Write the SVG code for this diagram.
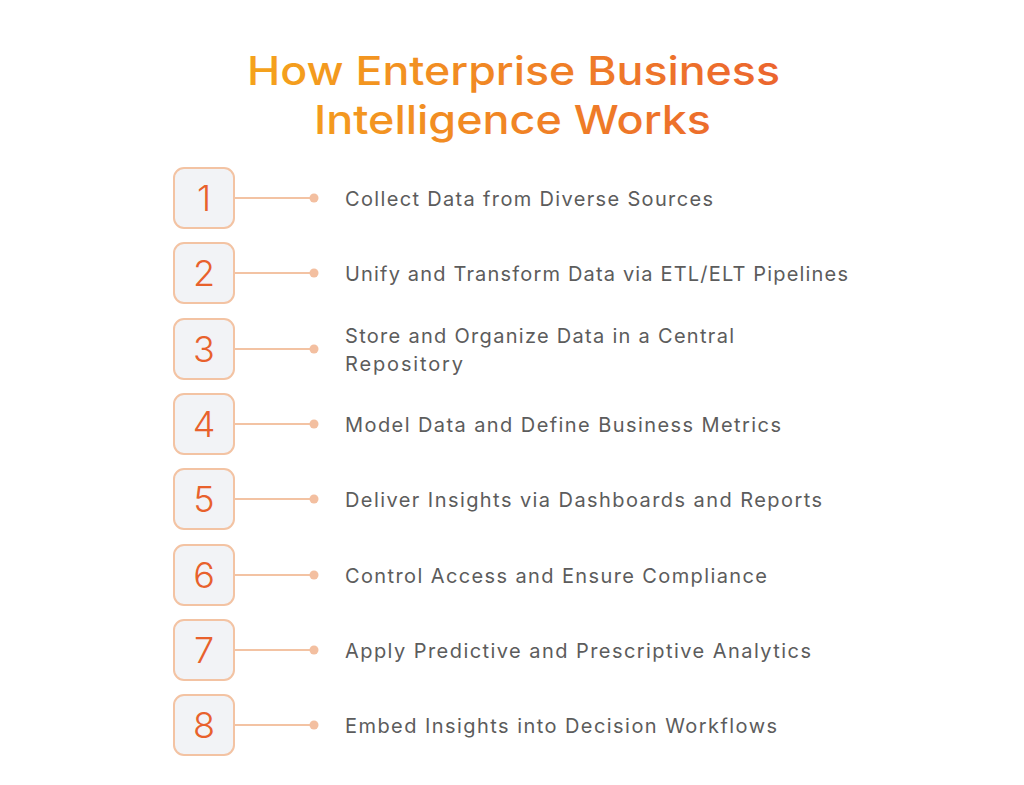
<svg xmlns="http://www.w3.org/2000/svg" width="1024" height="785" viewBox="0 0 1024 785">
<defs>
<linearGradient id="tg" x1="247" y1="0" x2="780" y2="0" gradientUnits="userSpaceOnUse">
<stop offset="0" stop-color="#F5A31C"/>
<stop offset="1" stop-color="#EB652E"/>
</linearGradient>
<style>
.box{fill:#F2F3F6;stroke:#F3C3A3;stroke-width:2}
.num{font-family:Inter,"Liberation Sans",sans-serif;font-size:36px;font-weight:300;fill:#E8612C;text-anchor:middle}
.lbl{font-family:Inter,"Liberation Sans",sans-serif;font-size:20px;fill:#5C5C5C}
.ln{stroke:#F3C3A3;stroke-width:2}
.dot{fill:#F3BFA0}
.title{font-family:Inter,"Liberation Sans",sans-serif;font-size:40px;font-weight:500;fill:url(#tg)}
</style>
</defs>
<rect width="1024" height="785" fill="#FFFFFF"/>
<g id="title">
<text class="title" x="247" y="85" textLength="533" lengthAdjust="spacingAndGlyphs">How Enterprise Business</text>
<text class="title" x="314" y="134" textLength="397" lengthAdjust="spacingAndGlyphs">Intelligence Works</text>
</g>
<g id="connectors">
<line class="ln" x1="234" y1="198" x2="314" y2="198"/><circle class="dot" cx="314" cy="198" r="4.5"/>
<line class="ln" x1="234" y1="273" x2="314" y2="273"/><circle class="dot" cx="314" cy="273" r="4.5"/>
<line class="ln" x1="234" y1="349" x2="314" y2="349"/><circle class="dot" cx="314" cy="349" r="4.5"/>
<line class="ln" x1="234" y1="424" x2="314" y2="424"/><circle class="dot" cx="314" cy="424" r="4.5"/>
<line class="ln" x1="234" y1="499" x2="314" y2="499"/><circle class="dot" cx="314" cy="499" r="4.5"/>
<line class="ln" x1="234" y1="575" x2="314" y2="575"/><circle class="dot" cx="314" cy="575" r="4.5"/>
<line class="ln" x1="234" y1="650" x2="314" y2="650"/><circle class="dot" cx="314" cy="650" r="4.5"/>
<line class="ln" x1="234" y1="725" x2="314" y2="725"/><circle class="dot" cx="314" cy="725" r="4.5"/>
</g>
<g id="step1"><rect class="box" x="174" y="168" width="60" height="60" rx="10"/><text class="num" x="204" y="211">1</text><text class="lbl" x="345" y="206" textLength="368" lengthAdjust="spacing">Collect Data from Diverse Sources</text></g>
<g id="step2"><rect class="box" x="174" y="243" width="60" height="60" rx="10"/><text class="num" x="204" y="286">2</text><text class="lbl" x="345" y="281" textLength="503" lengthAdjust="spacing">Unify and Transform Data via ETL/ELT Pipelines</text></g>
<g id="step3"><rect class="box" x="174" y="319" width="60" height="60" rx="10"/><text class="num" x="204" y="362">3</text><text class="lbl" x="345" y="343" textLength="389" lengthAdjust="spacing">Store and Organize Data in a Central</text><text class="lbl" x="345" y="371" textLength="118" lengthAdjust="spacing">Repository</text></g>
<g id="step4"><rect class="box" x="174" y="394" width="60" height="60" rx="10"/><text class="num" x="204" y="437">4</text><text class="lbl" x="345" y="432" textLength="436" lengthAdjust="spacing">Model Data and Define Business Metrics</text></g>
<g id="step5"><rect class="box" x="174" y="469" width="60" height="60" rx="10"/><text class="num" x="204" y="512">5</text><text class="lbl" x="345" y="507" textLength="477" lengthAdjust="spacing">Deliver Insights via Dashboards and Reports</text></g>
<g id="step6"><rect class="box" x="174" y="545" width="60" height="60" rx="10"/><text class="num" x="204" y="588">6</text><text class="lbl" x="345" y="583" textLength="422" lengthAdjust="spacing">Control Access and Ensure Compliance</text></g>
<g id="step7"><rect class="box" x="174" y="620" width="60" height="60" rx="10"/><text class="num" x="204" y="663">7</text><text class="lbl" x="345" y="658" textLength="466" lengthAdjust="spacing">Apply Predictive and Prescriptive Analytics</text></g>
<g id="step8"><rect class="box" x="174" y="695" width="60" height="60" rx="10"/><text class="num" x="204" y="738">8</text><text class="lbl" x="345" y="733" textLength="432" lengthAdjust="spacing">Embed Insights into Decision Workflows</text></g>
</svg>
